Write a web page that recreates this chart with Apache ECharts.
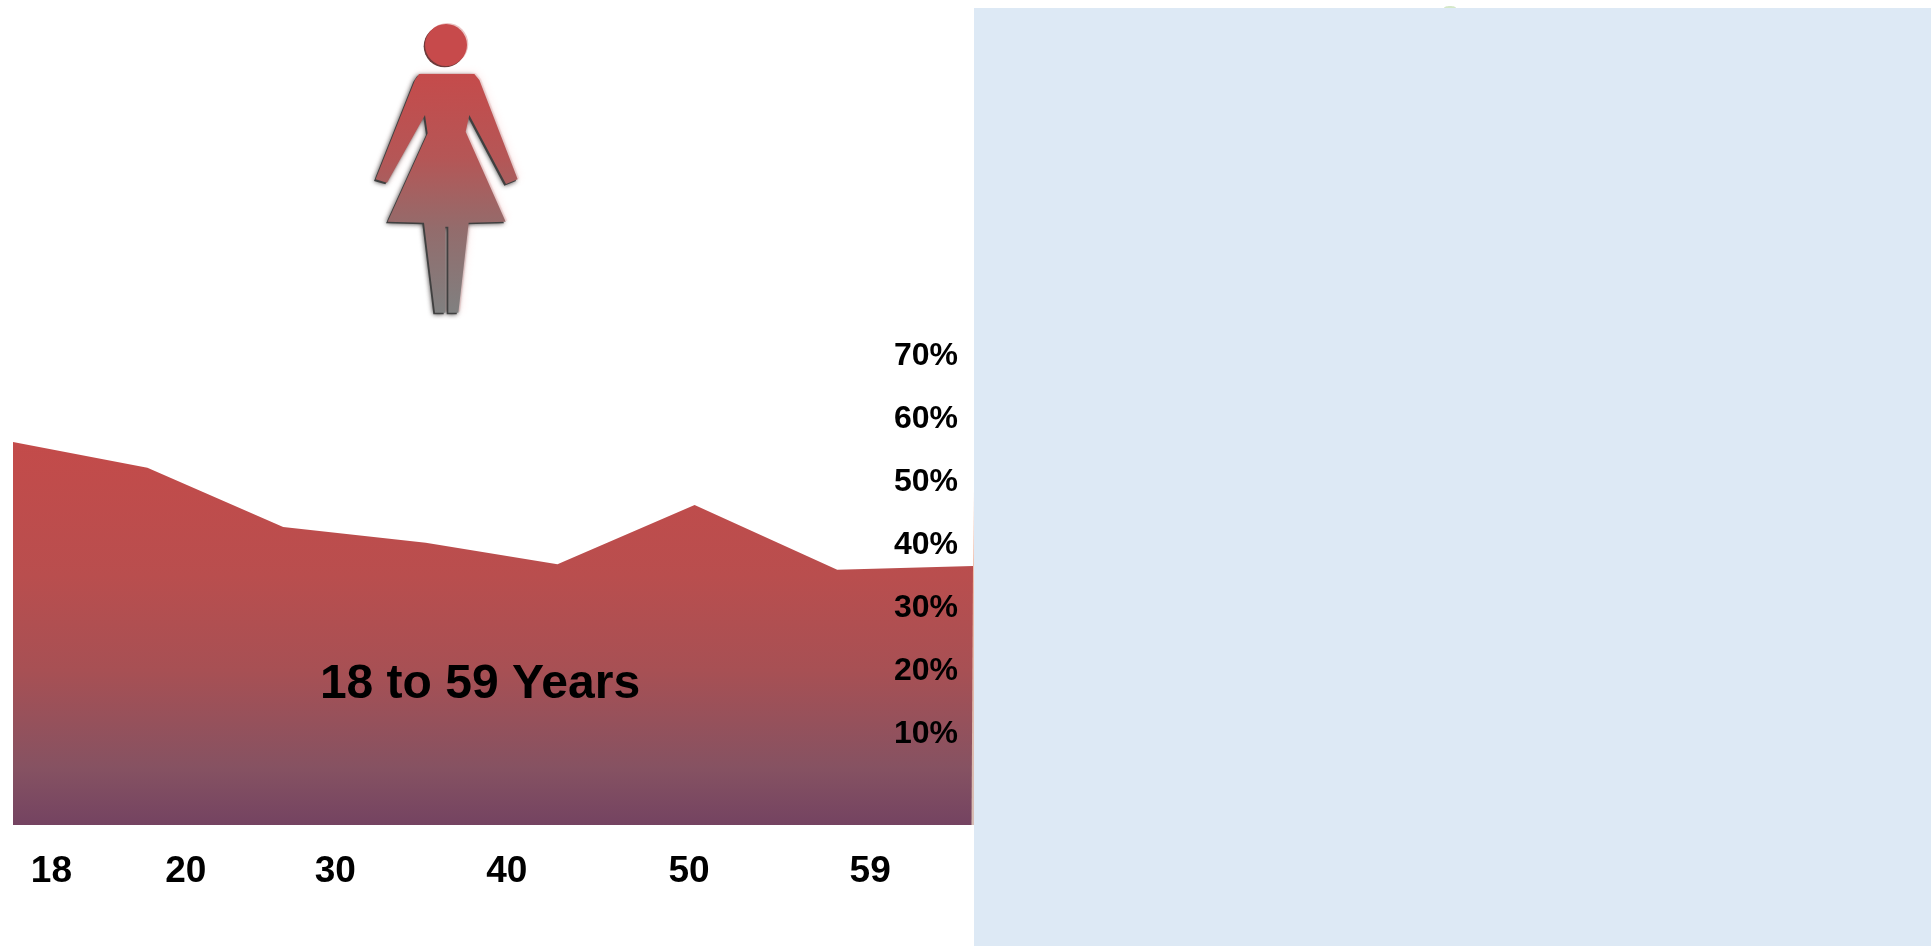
<!DOCTYPE html>
<html>
<head>
<meta charset="utf-8">
<title>18 to 59 Years</title>
<style>html,body{margin:0;padding:0;background:#fff;overflow:hidden}#c{width:1931px;height:946px}</style>
<script src="https://cdn.jsdelivr.net/npm/echarts@6/dist/echarts.min.js"></script>
</head>
<body>
<div id="c"></div>
<script>
// Values
const pointX = [0, 9.8, 19.7, 30.1, 39.7, 49.7, 60.1, 70];
const pointValues = [55.8, 51.7, 42.3, 39.8, 36.4, 45.8, 35.5, 36.1];
const xTickAt = [2.8, 12.6, 23.5, 36, 49.3, 62.5];
const xTickLabels = ['18', '20', '30', '40', '50', '59'];
const yTickValues = [10, 20, 30, 40, 50, 60, 70];
const titleText = '18 to 59 Years';

const font = '"Liberation Sans", Arial, sans-serif';

// Decorative pictogram outline (in 3x units of the figure box)
const bodyOutline = [[237,222],[403,222],[418,240],[533,538],[498,552],[388,345],[377,395],[497,665],[386,668],[355,938],[325,938],[325,680],[316,680],[316,938],[285,938],[252,668],[143,665],[263,400],[255,345],[141,548],[107,538],[225,240]];
const bodyGrad = new echarts.graphic.LinearGradient(0,0,0,1,[
  {offset:0,color:'#C54B4B'},{offset:.35,color:'#B55656'},{offset:.65,color:'#936C6C'},{offset:1,color:'#808080'}]);
function figureLayer(dx, dy, fill, blur){
  return {type:'polygon', shape:{points:bodyOutline}, x:dx, y:dy, silent:true,
    style:{fill:fill, shadowBlur:blur||0, shadowColor:fill}};
}
function headLayer(dx, dy, fill){
  return {type:'circle', shape:{cx:318,cy:135,r:63}, x:dx, y:dy, silent:true, style:{fill:fill}};
}

const chart = echarts.init(document.getElementById('c'), null, {renderer:'canvas'});
chart.setOption({
  animation:false,
  backgroundColor:'#fff',
  title:{text:titleText,left:480,top:661,textAlign:'center',
    textStyle:{fontFamily:font,fontSize:48,fontWeight:'bold',color:'#000'},padding:0,z:6},
  grid:{left:13,right:958,top:321,bottom:121,containLabel:false},
  xAxis:{type:'value',min:0,max:70,
    axisLine:{show:false},splitLine:{show:false},
    axisTick:{show:false,customValues:xTickAt},
    axisLabel:{show:true,customValues:xTickAt,margin:28,color:'#000',
      fontFamily:font,fontSize:37,fontWeight:'bold',
      formatter:v=>{const i=xTickAt.indexOf(v);return i>=0?xTickLabels[i]:'';}}},
  yAxis:{type:'value',min:-5,max:75,position:'right',
    axisLine:{show:false},splitLine:{show:false},
    axisTick:{show:false,customValues:yTickValues},
    axisLabel:{show:true,inside:true,customValues:yTickValues,margin:15,color:'#000',
      fontFamily:font,fontSize:32,fontWeight:'bold',formatter:v=>'{a|'+v+'%}',
      rich:{a:{fontFamily:font,fontSize:32,fontWeight:'bold',color:'#000',padding:[8,0,0,0]}}},z:5},
  series:[{type:'line',data:pointX.map((x,i)=>[x,pointValues[i]]),
    showSymbol:false,silent:true,lineStyle:{width:0},
    areaStyle:{origin:'start',opacity:1,color:new echarts.graphic.LinearGradient(0,0,0,1,[
      {offset:0,color:'#C34B4A'},{offset:.35,color:'#B94E4E'},{offset:.6,color:'#A75054'},
      {offset:.85,color:'#865262'},{offset:1,color:'#744361'}])}}],
  graphic:[
    {type:'ellipse',shape:{cx:1450,cy:8,rx:6,ry:2},silent:true,style:{fill:'#D5E8C8'},z:1},
    {type:'rect',shape:{x:974,y:8,width:957,height:938},silent:true,style:{fill:'#DDE9F5'},z:2},
    {type:'polygon',shape:{points:[[974,490],[974,825],[971.5,825],[973,566]]},silent:true,z:4,
      style:{fill:new echarts.graphic.LinearGradient(0,0,0,1,[{offset:0,color:'#F5D5C8'},{offset:.3,color:'#EDB8A5'},{offset:1,color:'#D6BDB4'}])}},
    {type:'group',x:340,y:0,scaleX:1/3,scaleY:1/3,silent:true,z:3,children:[
      figureLayer(5,-3,'rgba(255,215,215,.7)',8),
      figureLayer(-5,5,'#404040',5),
      Object.assign(figureLayer(0,0,bodyGrad),{z2:2}),
      headLayer(4,-3,'#EBC4C4'),
      headLayer(-4,4,'#6E3A3A'),
      Object.assign(headLayer(0,0,'#C74A4B'),{z2:2})
    ]}
  ]
});
</script>
</body>
</html>
